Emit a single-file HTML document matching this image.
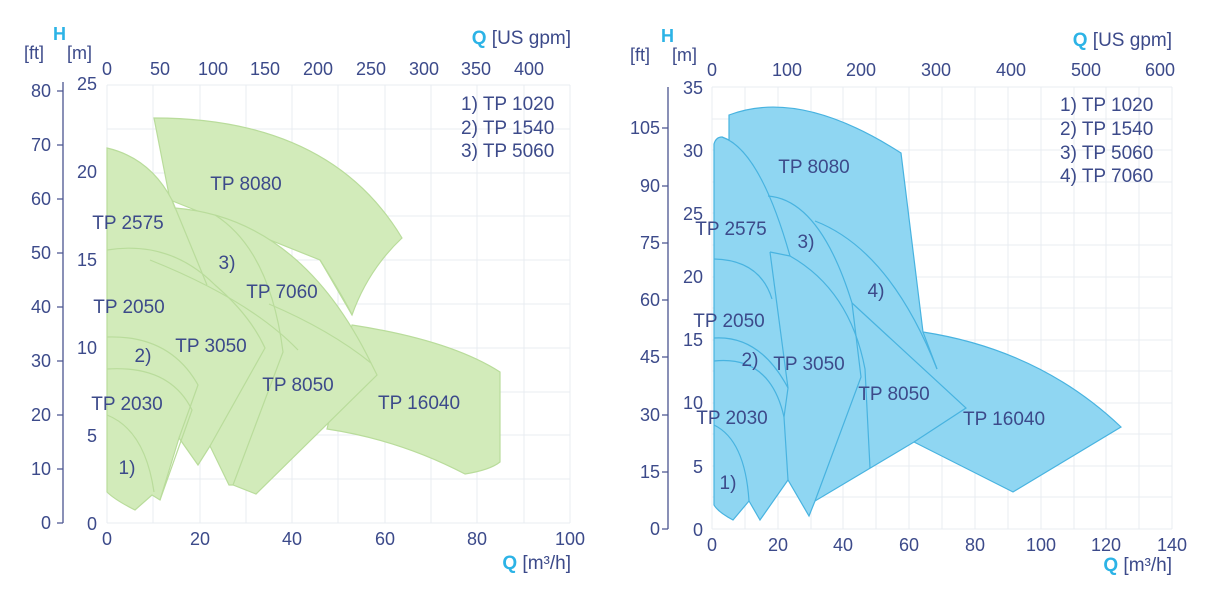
<!DOCTYPE html>
<html><head><meta charset="utf-8"><style>
html,body{margin:0;padding:0;background:#fff;width:1218px;height:607px;overflow:hidden}
svg text{font-family:"Liberation Sans",sans-serif;fill:#3c4a8a}
.t{font-size:18px}.l{font-size:19px}.a{fill:#2cb3e6!important;font-weight:bold}
</style></head><body>
<svg width="1218" height="607" viewBox="0 0 1218 607" xmlns="http://www.w3.org/2000/svg">
<g stroke="#e9ecf2" stroke-width="1">
<path d="M107,85V523M153,85V523M200,85V523M246,85V523M292,85V523M338,85V523M385,85V523M431,85V523M477,85V523M524,85V523M570,85V523"/>
<path d="M107,85H570M107,129H570M107,173H570M107,216H570M107,260H570M107,304H570M107,348H570M107,392H570M107,435H570M107,479H570M107,523H570"/>
</g>
<g fill="#d2ebba" stroke="#b9dc9b" stroke-width="1.2">
<path d="M154,118 Q330,118 402,238 Q368,270 352,315 L320,260 L170,200 Z"/>
<path d="M352,325 Q450,340 500,372 L500,462 Q490,470 465,474 Q400,440 327,429 Z"/>
<path d="M107,148 Q150,158 172,200 L175,208 Q300,218 371,363 L377,375 L256,494 L233,485 L229,485 L210,446 L198,465 L179,438 L160,500 L152,495 L135,510 Q115,500 107,492 Z"/>
</g>
<g fill="none" stroke="#b9dc9b" stroke-width="1.2">
<path d="M172,200 L207,285"/>
<path d="M107,250 Q170,240 215,285 Q250,315 265,348 L210,446"/>
<path d="M150,260 Q250,300 298,350"/>
<path d="M107,337 Q170,335 198,385 L179,438"/>
<path d="M107,369 Q170,365 192,410 L160,500"/>
<path d="M107,415 Q145,430 154,492"/>
<path d="M215,215 Q270,250 283,352 L233,485"/>
<path d="M269,304 Q330,330 371,363"/>
<path d="M320,260 Q345,300 352,315"/>
</g>
<path d="M63,82V523M57,91H63M57,145H63M57,199H63M57,253H63M57,307H63M57,361H63M57,415H63M57,469H63M57,523H63" stroke="#4a5590" stroke-width="1.3" fill="none"/>
<g class="t" text-anchor="end">
<text x="51" y="97">80</text><text x="51" y="151">70</text><text x="51" y="205">60</text><text x="51" y="259">50</text><text x="51" y="313">40</text><text x="51" y="367">30</text><text x="51" y="421">20</text><text x="51" y="475">10</text><text x="51" y="529">0</text>
<text x="97" y="90">25</text><text x="97" y="178">20</text><text x="97" y="266">15</text><text x="97" y="354">10</text><text x="97" y="442">5</text><text x="97" y="530">0</text>
</g>
<g class="t" text-anchor="middle">
<text x="107" y="545">0</text><text x="200" y="545">20</text><text x="292" y="545">40</text><text x="385" y="545">60</text><text x="477" y="545">80</text><text x="570" y="545">100</text>
<text x="107" y="75">0</text><text x="160" y="75">50</text><text x="213" y="75">100</text><text x="265" y="75">150</text><text x="318" y="75">200</text><text x="371" y="75">250</text><text x="424" y="75">300</text><text x="476" y="75">350</text><text x="529" y="75">400</text>
</g>
<text x="53" y="40" class="t a">H</text>
<text x="24" y="59" class="t">[ft]</text><text x="67" y="59" class="t">[m]</text>
<text x="571" y="44" class="l" text-anchor="end"><tspan class="a">Q</tspan> [US gpm]</text>
<text x="571" y="569" class="l" text-anchor="end"><tspan class="a">Q</tspan> [m³/h]</text>
<g class="l"><text x="461" y="110">1) TP 1020</text><text x="461" y="134">2) TP 1540</text><text x="461" y="157">3) TP 5060</text></g>
<g class="l" text-anchor="middle">
<text x="246" y="190">TP 8080</text><text x="128" y="229">TP 2575</text><text x="227" y="269">3)</text><text x="282" y="298">TP 7060</text><text x="129" y="313">TP 2050</text><text x="211" y="352">TP 3050</text><text x="143" y="362">2)</text><text x="298" y="391">TP 8050</text><text x="419" y="409">TP 16040</text><text x="127" y="410">TP 2030</text><text x="127" y="474">1)</text>
</g>

<g stroke="#e9ecf2" stroke-width="1">
<path d="M712,87V529M745,87V529M778,87V529M811,87V529M843,87V529M876,87V529M909,87V529M942,87V529M975,87V529M1008,87V529M1041,87V529M1074,87V529M1106,87V529M1139,87V529M1172,87V529"/>
<path d="M712,87H1172M712,119H1172M712,150H1172M712,182H1172M712,213H1172M712,245H1172M712,277H1172M712,308H1172M712,340H1172M712,371H1172M712,403H1172M712,434H1172M712,466H1172M712,497H1172M712,529H1172"/>
</g>
<g fill="#8fd6f2" stroke="#48b3e0" stroke-width="1.2">
<path d="M714,505 L714,144 Q716,137 722,137 L729,140 L729,115 Q800,88 901,153 L923,332 Q1040,350 1121,427 L1013,492 L914,442 L815,501 L809,516 L788,480 L760,520 L749,501 L733,520 Q718,512 714,505 Z"/>
</g>
<g fill="none" stroke="#48b3e0" stroke-width="1.2">
<path d="M722,137 Q760,150 790,256"/>
<path d="M770,252 L790,256 Q850,290 865,369 L870,468"/>
<path d="M770,252 L788,388"/>
<path d="M768,196 Q820,200 852,303 L861,377 L815,501"/>
<path d="M815,221 Q890,250 937,369"/>
<path d="M852,303 L966,408 L914,442"/>
<path d="M923,332 L937,369"/>
<path d="M714,259 Q760,260 772,299"/>
<path d="M714,338 Q760,335 788,388 L784,417 L788,480"/>
<path d="M714,361 Q770,355 784,417"/>
<path d="M714,425 Q745,440 749,501"/>
</g>
<path d="M668,87V529M662,128H668M662,186H668M662,243H668M662,300H668M662,357H668M662,415H668M662,472H668M662,529H668" stroke="#4a5590" stroke-width="1.3" fill="none"/>
<g class="t" text-anchor="end">
<text x="660" y="134">105</text><text x="660" y="192">90</text><text x="660" y="249">75</text><text x="660" y="306">60</text><text x="660" y="363">45</text><text x="660" y="421">30</text><text x="660" y="478">15</text><text x="660" y="535">0</text>
<text x="703" y="94">35</text><text x="703" y="157">30</text><text x="703" y="220">25</text><text x="703" y="283">20</text><text x="703" y="346">15</text><text x="703" y="409">10</text><text x="703" y="473">5</text><text x="703" y="536">0</text>
</g>
<g class="t" text-anchor="middle">
<text x="712" y="551">0</text><text x="778" y="551">20</text><text x="843" y="551">40</text><text x="909" y="551">60</text><text x="975" y="551">80</text><text x="1041" y="551">100</text><text x="1106" y="551">120</text><text x="1172" y="551">140</text>
<text x="712" y="76">0</text><text x="787" y="76">100</text><text x="861" y="76">200</text><text x="936" y="76">300</text><text x="1011" y="76">400</text><text x="1086" y="76">500</text><text x="1160" y="76">600</text>
</g>
<text x="661" y="42" class="t a">H</text>
<text x="630" y="61" class="t">[ft]</text><text x="672" y="61" class="t">[m]</text>
<text x="1172" y="46" class="l" text-anchor="end"><tspan class="a">Q</tspan> [US gpm]</text>
<text x="1172" y="571" class="l" text-anchor="end"><tspan class="a">Q</tspan> [m³/h]</text>
<g class="l"><text x="1060" y="111">1) TP 1020</text><text x="1060" y="135">2) TP 1540</text><text x="1060" y="159">3) TP 5060</text><text x="1060" y="182">4) TP 7060</text></g>
<g class="l" text-anchor="middle">
<text x="814" y="173">TP 8080</text><text x="731" y="235">TP 2575</text><text x="806" y="248">3)</text><text x="876" y="297">4)</text><text x="729" y="327">TP 2050</text><text x="750" y="366">2)</text><text x="809" y="370">TP 3050</text><text x="894" y="400">TP 8050</text><text x="1004" y="425">TP 16040</text><text x="732" y="424">TP 2030</text><text x="728" y="489">1)</text>
</g>
</svg>
</body></html>
